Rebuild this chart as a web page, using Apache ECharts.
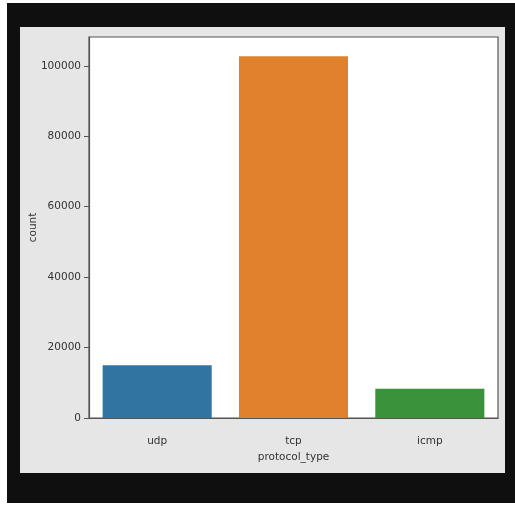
<!DOCTYPE html>
<html><head><meta charset="utf-8">
<script src="https://cdn.jsdelivr.net/npm/echarts@6/dist/echarts.min.js"></script>
<style>html,body{margin:0;padding:0;background:#fff}#c{width:515px;height:505px}</style>
</head><body><div id="c"></div>
<script>
const categories = ['udp', 'tcp', 'icmp'];
const counts = [15000, 102700, 8300];
const barColors = ['#3274a1', '#e1812c', '#3a923a'];
const yTicks = [0, 20000, 40000, 60000, 80000, 100000];
const yMax = 108200;

const chart = echarts.init(document.getElementById('c'));
const font = 'DejaVu Sans';
chart.setOption({
  backgroundColor: '#ffffff',
  animation: false,
  graphic: [
    { type: 'rect', z: -10, shape: { x: 7, y: 3, width: 508, height: 500 }, style: { fill: '#0f0f0f' } },
    { type: 'rect', z: -9, shape: { x: 20, y: 27, width: 485, height: 446 }, style: { fill: '#e6e6e6' } }
  ],
  grid: { left: 89, top: 37, width: 409, height: 381, show: true, backgroundColor: '#ffffff', borderColor: '#555555', borderWidth: 1.2 },
  xAxis: {
    type: 'category', data: categories,
    name: 'protocol_type', nameLocation: 'middle', nameGap: 34, nameMoveOverlap: false,
    nameTextStyle: { fontFamily: font, fontSize: 10.5, color: '#333' },
    axisLine: { lineStyle: { color: '#555555', width: 1.2 } },
    axisTick: { alignWithLabel: true, length: 5, lineStyle: { color: '#555555' } },
    axisLabel: { fontFamily: font, fontSize: 10.5, color: '#333', margin: 18 },
    splitLine: { show: false }
  },
  yAxis: {
    type: 'value', min: 0, max: yMax,
    name: 'count', nameLocation: 'middle', nameGap: 50, nameRotate: 90, nameMoveOverlap: false,
    nameTextStyle: { fontFamily: font, fontSize: 10.5, color: '#333' },
    axisLine: { show: true, lineStyle: { color: '#555555', width: 1.2 } },
    axisTick: { show: true, length: 5, customValues: yTicks, lineStyle: { color: '#555555' } },
    axisLabel: { fontFamily: font, fontSize: 10.5, color: '#333', margin: 8, customValues: yTicks, formatter: v => String(v) },
    splitLine: { show: false }
  },
  series: [{
    type: 'bar', barCategoryGap: '20%',
    data: counts.map((v, i) => ({ value: v, itemStyle: { color: barColors[i] } }))
  }]
});
</script></body></html>
